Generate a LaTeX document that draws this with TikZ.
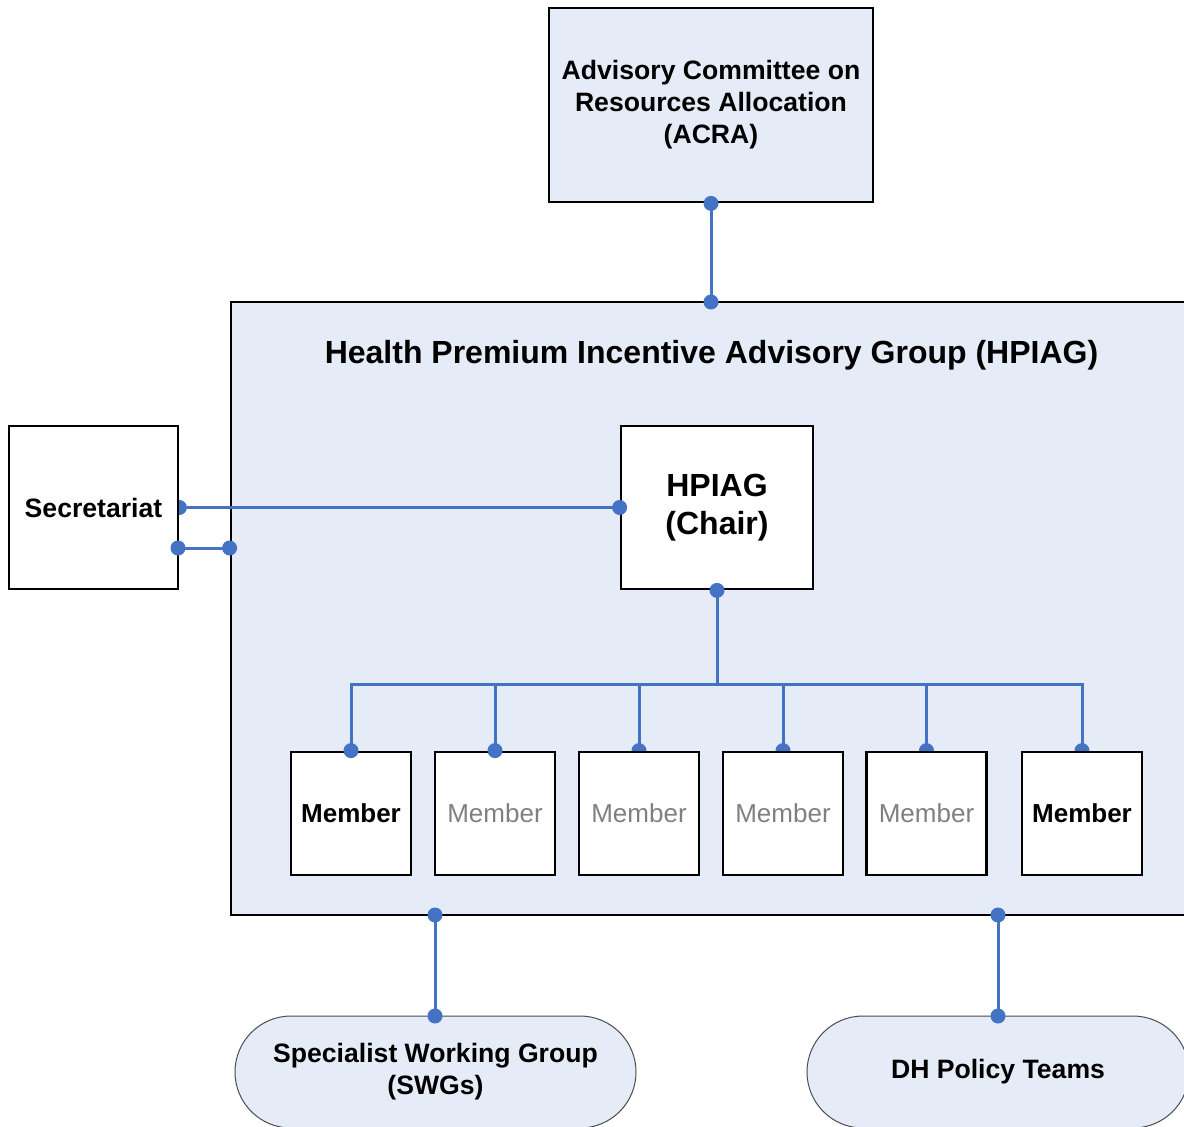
\documentclass[tikz,border=0pt]{standalone}
\usepackage{fontspec}
\setmainfont{Liberation Sans}
\pgfdeclarelayer{back}
\pgfdeclarelayer{bg}
\pgfsetlayers{back,bg,main}
\definecolor{lightfill}{RGB}{230,236,247}
\definecolor{conncol}{RGB}{68,114,196}
\definecolor{graytext}{RGB}{128,128,128}
\tikzset{
  box/.style={draw=black, line width=2.8pt, inner sep=0pt, align=center},
  bluebox/.style={box, fill=lightfill},
  whitebox/.style={box, fill=white},
  pill/.style={draw=black!70, line width=1pt, fill=lightfill, rounded corners=56pt, inner sep=0pt, align=center},
  conn/.style={draw=conncol, line width=3pt},
  fnt/.style={font=\bfseries\fontsize{26.6}{32}\selectfont},
  bigfnt/.style={font=\bfseries\fontsize{32}{38}\selectfont},
  memb/.style={whitebox, minimum width=120pt, minimum height=123pt, font=\bfseries\fontsize{26}{32}\selectfont},
  membg/.style={memb, font=\fontsize{26}{32}\selectfont, text=graytext},
}
\newcommand{\cdotat}[1]{\fill[conncol] (#1) circle (7.5pt);}
\begin{document}
\begin{tikzpicture}[x=1pt,y=-1pt]
\useasboundingbox (0,0) rectangle (1184,1127);
\clip (0,0) rectangle (1184,1127);
\begin{pgfonlayer}{back}
\fill[white] (0,0) rectangle (1184,1127);
\node[bluebox, minimum width=969pt, minimum height=613pt] (hpiag) at (715.5,608.5) {};
\end{pgfonlayer}
\node[font=\bfseries\fontsize{32}{38}\selectfont] (title) at (711.5,355) {Health Premium Incentive Advisory Group (HPIAG)};
\node[bluebox, minimum width=324pt, minimum height=194pt, fnt] (acra) at (711,105) {Advisory Committee on\\Resources Allocation\\(ACRA)};
\node[whitebox, minimum width=169pt, minimum height=163pt, fnt] (sec) at (93.5,507.5) {Secretariat};
\node[whitebox, minimum width=192pt, minimum height=163pt, bigfnt] (chair) at (717,507.5) {HPIAG\\(Chair)};
\node[memb] (m1) at (351,813.5) {Member};
\node[membg] (m2) at (495,813.5) {Member};
\node[membg] (m3) at (639,813.5) {Member};
\node[membg] (m4) at (783,813.5) {Member};
\node[membg] (m5) at (926.5,813.5) {Member};
\node[memb] (m6) at (1082,813.5) {Member};
\node[pill, minimum width=401pt, minimum height=112pt, fnt] (swg) at (435.5,1072) {Specialist Working Group\\(SWGs)};
\node[pill, minimum width=382pt, minimum height=112pt, fnt] (dh) at (998,1072) {DH Policy Teams};
\coordinate (bus) at (717,684);
\coordinate (s2) at (178,548);
\coordinate (top) at (711,302);
\coordinate (b1) at (435,915);
\coordinate (b2) at (998,915);
\coordinate (t1) at (435,1016);
\coordinate (t2) at (998,1016);
\begin{pgfonlayer}{bg}
\draw[conn] (acra.south) -- (top);
\draw[conn] (sec.east) -- (chair.west);
\draw[conn] (s2) -- (s2 -| hpiag.west);
\draw[conn] (chair.south) -- (bus);
\draw[conn] (m1.north) -- (m1.north |- bus) -- (m6.north |- bus) -- (m6.north);
\foreach \m in {m2,m3,m4,m5} {\draw[conn] (\m.north) -- (\m.north |- bus);}
\draw[conn] (b1) -- (t1);
\draw[conn] (b2) -- (t2);
\cdotat{sec.east}
\foreach \m in {m3,m4,m5,m6} {\cdotat{\m.north}}
\end{pgfonlayer}
\cdotat{acra.south}
\cdotat{top}
\cdotat{chair.west}
\cdotat{chair.south}
\cdotat{s2}
\cdotat{s2 -| hpiag.west}
\cdotat{m1.north}
\cdotat{m2.north}
\cdotat{b1}
\cdotat{b2}
\cdotat{t1}
\cdotat{t2}
\end{tikzpicture}
\end{document}
